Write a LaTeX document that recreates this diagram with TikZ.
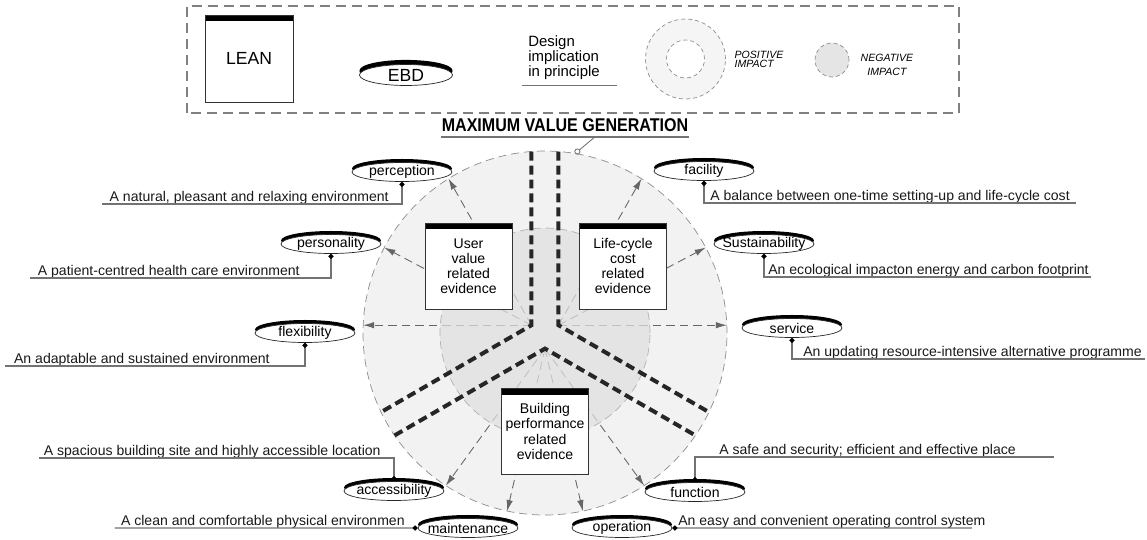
\documentclass[tikz,border=0pt]{standalone}
\usepackage{fontspec}
\setmainfont{Liberation Sans}
\usepackage{graphicx}
\usepackage{tikz}
\usetikzlibrary{arrows.meta,calc,positioning,shadows,shapes.geometric}
\tikzset{%
	lean/.style    = {draw=black!80, fill=white, minimum width=1.74cm, minimum height=1.72cm, align=center, inner sep=1pt, font=\fontsize{8}{8.6}\selectfont,
		path picture={\fill[black] (path picture bounding box.north west) rectangle ([yshift=-0.12cm]path picture bounding box.north east);}}, % Evidence box
	lift/.style    = {drop shadow={shadow xshift=0pt, shadow yshift=#1, fill=black, opacity=1}}, % Heavy top rim
	ebd/.style     = {ellipse, draw=black!85, fill=white, minimum width=2cm, minimum height=0.38cm, inner sep=0pt, lift=2pt,
		label={[font=\fontsize{8}{9}\selectfont]center:#1}}, % Design factor
	desc/.style    = {font=\fontsize{8}{9}\selectfont, inner sep=0pt, text=black!90}, % Principle
	lead/.style    = {draw=black!55, line width=0.8pt, arrows={Circle[length=2.8pt,black]-}}, % Leader
	impact/.style  = {draw=black!60, line width=0.5pt, dash pattern=on 0.17cm off 0.1cm, arrows={-Latex[length=0.22cm,width=0.13cm]}}, % Influence
	road/.style    = {draw=black!85, line width=0.08cm, dash pattern=on 0.18cm off 0.1cm}, % Value path
	keyline/.style = {draw=black!55, line width=0.8pt},
	ring/.style    = {circle, draw=black!45, dash pattern=on 0.08cm off 0.06cm, inner sep=0pt},
}
\begin{document}
\begin{tikzpicture}[x=0.02cm, y=0.02cm]
	\useasboundingbox (-545,-206) rectangle (602,333);
	% legend
	\draw[black!50, line width=0.7pt, dash pattern=on 0.2cm off 0.12cm] (-358,220) rectangle (414,327);
	\node[lean, minimum width=1.76cm, minimum height=1.74cm, font=\fontsize{10}{12}\selectfont] (leankey) at (-296,274.5) {LEAN};
	\node[ebd={\fontsize{10}{12}\selectfont EBD}, lift=2.6pt, minimum width=1.86cm, minimum height=0.42cm] (ebdkey) at (-139,258) {};
	\node[anchor=west, align=left, font=\fontsize{8.5}{8.5}\selectfont, inner sep=0pt] (dip) at (-17,275) {Design\\implication\\in principle};
	\draw[keyline] ([xshift=-0.12cm,yshift=-0.1cm]dip.south west) -- ++(95,0);
	\node[ring, fill=black!4, minimum size=1.6cm] (poskey) at (140.5,274) {};
	\node[ring, fill=white, minimum size=0.76cm] (poskey-in) at (poskey) {};
	\node[right=0.17cm of poskey, align=left, inner sep=0pt, font=\itshape\fontsize{6}{5.2}\selectfont] (poslbl) {POSITIVE\\IMPACT};
	\node[ring, fill=black!10, minimum size=0.68cm] (negkey) at (287,273) {};
	\node[right=0.22cm of negkey, yshift=-0.1cm, align=center, inner sep=0pt, font=\itshape\fontsize{6}{8}\selectfont] (neglbl) {NEGATIVE\\IMPACT};

	% value circle
	\fill[black!5] (0,0) circle (182);
	\coordinate (ul) at (-13.5,7.8);
	\coordinate (ur) at (13.5,7.8);
	\coordinate (bt) at (0,-15.6);
	\foreach \n/\a in {perc/122, pers/152, fac/58, sust/28, acc/237, maint/258, oper/282, func/303}
		\coordinate (\n-tip) at (\a:182);
	\coordinate (flex-tip) at (-181.8,7.8);
	\coordinate (serv-tip) at (181.8,7.8);
	\foreach \n in {perc,pers,flex} \draw[impact] (ul) -- (\n-tip);
	\foreach \n in {fac,sust,serv} \draw[impact] (ur) -- (\n-tip);
	\foreach \n in {acc,maint,oper,func} \draw[impact] (bt) -- (\n-tip);
	\fill[black!12, fill opacity=0.74] (0,0) circle (105);
	\draw[black!30, dash pattern=on 0.16cm off 0.1cm] (0,0) circle (105);
	\draw[black!45, dash pattern=on 0.16cm off 0.1cm] (0,0) circle (182);
	\draw[road] (-13.5,181.5) -- (ul) -- (-163.9,-79.1);
	\draw[road] (13.5,181.5) -- (ur) -- (163.9,-79.1);
	\draw[road] (-150.4,-102.4) -- (bt) -- (150.4,-102.4);

	% evidence
	\node[lean] (uve) at (-76.5,67) {User\\value\\related\\evidence};
	\node[lean] (lce) at (78,67) {Life-cycle\\cost\\related\\evidence};
	\node[lean] (bpe) at (0,-98.5) {Building\\performance\\related\\evidence};

	% title
	\node[inner sep=0pt, font=\bfseries\fontsize{10.5}{12}\selectfont] (mvg) at (20,208) {\scalebox{0.87}[1]{MAXIMUM VALUE GENERATION}};
	\draw[keyline] ([yshift=-0.1cm]mvg.south west) -- ([yshift=-0.1cm]mvg.south east);
	\coordinate (mvg-pin) at (80.5:182);
	\draw[keyline, line width=0.5pt, arrows={Circle[open,length=3.5pt]-}] (mvg-pin) -- ([xshift=0.6cm,yshift=-0.1cm]mvg.south);

	% design factors
	\node[ebd=perception] (perc) at (-143,161) {};
	\node[ebd=personality] (pers) at (-214,89) {};
	\node[ebd=flexibility] (flex) at (-240,0) {};
	\node[ebd=accessibility] (acc) at (-151,-158) {};
	\node[ebd=maintenance] (maint) at (-77,-195) {};
	\node[ebd=operation] (oper) at (77,-195) {};
	\node[ebd=function] (func) at (150,-159) {};
	\node[ebd=service] (serv) at (247,5) {};
	\node[ebd=Sustainability] (sust) at (219,89) {};
	\node[ebd=facility] (fac) at (159,162) {};

	% principles
	\node[desc, anchor=base east] (perc-txt) at (-156,132) {A natural, pleasant and relaxing environment};
	\draw[lead] (perc.south) |- ([xshift=-0.14cm,yshift=-0.06cm]perc-txt.base west);
	\node[desc, anchor=base east] (pers-txt) at (-245,58) {A patient-centred health care environment};
	\draw[lead] (pers.south) |- ([xshift=-0.16cm,yshift=-0.06cm]pers-txt.base west);
	\node[desc, anchor=base east] (flex-txt) at (-275,-30) {An adaptable and sustained environment};
	\draw[lead] (flex.south) |- ([xshift=-0.18cm,yshift=-0.06cm]flex-txt.base west);
	\node[desc, anchor=base east] (acc-txt) at (-164,-122) {A spacious building site and highly accessible location};
	\draw[lead] (acc.north) |- ([xshift=-0.1cm,yshift=-0.06cm]acc-txt.base west);
	\node[desc, anchor=base east] (maint-txt) at (-140,-192) {A clean and comfortable physical environmen};
	\draw[lead] (maint.west) -- ([xshift=-0.12cm,yshift=-0.06cm]maint-txt.base west);
	\node[desc, anchor=base west] (oper-txt) at (133,-192) {An easy and convenient operating control system};
	\draw[lead] (oper.east) -- ([xshift=-0.28cm,yshift=-0.06cm]oper-txt.base east);
	\node[desc, anchor=base west] (func-txt) at (174,-121) {A safe and security; efficient and effective place};
	\draw[lead] (func.north) |- ([xshift=0.76cm,yshift=-0.06cm]func-txt.base east);
	\node[desc, anchor=base west] (serv-txt) at (258,-23) {An updating resource-intensive alternative programme};
	\draw[lead] (serv.south) |- ([xshift=0.06cm,yshift=-0.06cm]serv-txt.base east);
	\node[desc, anchor=base west] (sust-txt) at (223,59) {An ecological impacton energy and carbon footprint};
	\draw[lead] (sust.south) |- ([xshift=0.04cm,yshift=-0.06cm]sust-txt.base east);
	\node[desc, anchor=base west] (fac-txt) at (165,133) {A balance between one-time setting-up and life-cycle cost};
	\draw[lead] (fac.south) |- ([xshift=0.12cm,yshift=-0.06cm]fac-txt.base east);
\end{tikzpicture}
\end{document}
